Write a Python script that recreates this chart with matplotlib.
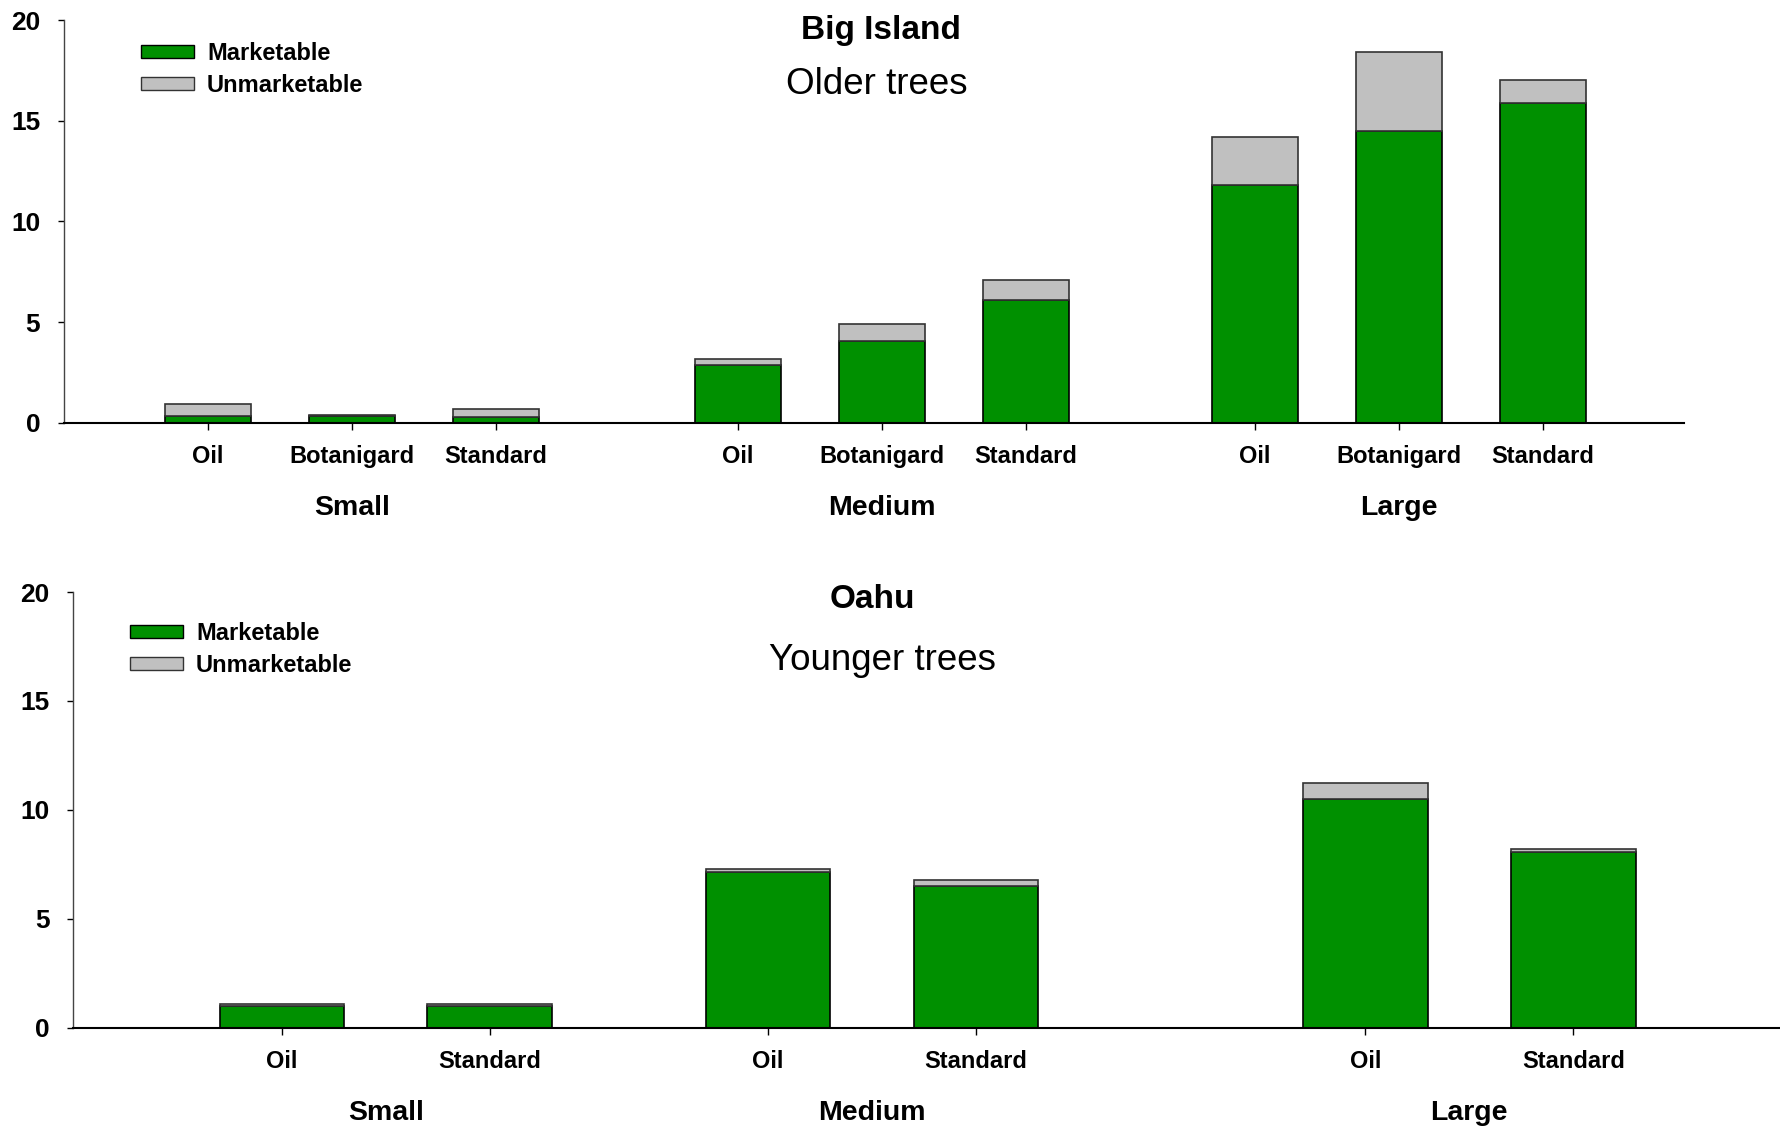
import numpy as np
import matplotlib
matplotlib.use("Agg")
import matplotlib.pyplot as plt
from matplotlib.patches import Patch

plt.rcParams['font.family'] = ['Liberation Sans', 'DejaVu Sans']

# values (yield per tree, stacked)
sizes = ['Small', 'Medium', 'Large']

top_treatments = ['Oil', 'Botanigard', 'Standard']
top_marketable = [[0.33, 0.37, 0.30], [2.89, 4.07, 6.10], [11.8, 14.5, 15.9]]
top_unmarketable = [[0.63, 0.03, 0.41], [0.27, 0.85, 1.02], [2.4, 3.9, 1.1]]

bottom_treatments = ['Oil', 'Standard']
bottom_marketable = [[1.0, 1.0], [7.14, 6.51], [10.52, 8.07]]
bottom_unmarketable = [[0.08, 0.10], [0.15, 0.29], [0.70, 0.15]]

green = '#009000'
grey = '#c0c0c0'


def draw_panel(ax, treatments, marketable, unmarketable, centers, offsets, xmax):
    # stacked bars for each size group, returns nothing
    xs = []
    labels = []
    for g in range(len(sizes)):
        for t in range(len(treatments)):
            x = centers[g] + offsets[t]
            ax.bar(x, marketable[g][t], width=0.6, color=green,
                   edgecolor='black', linewidth=1.2)
            ax.bar(x, unmarketable[g][t], bottom=marketable[g][t], width=0.6,
                   color=grey, edgecolor='#333333', linewidth=1.2)
            xs.append(x)
            labels.append(treatments[t])
        ax.annotate(sizes[g], xy=(centers[g], 0), xycoords=('data', 'axes fraction'),
                    xytext=(0, -61), textcoords='offset points',
                    ha='center', va='center', fontsize=20.5, fontweight='bold')
    ax.set_xticks(xs)
    ax.set_xticklabels(labels, fontsize=17, fontweight='bold')
    ax.set_xlim(0, xmax)
    ax.set_ylim(0, 20)
    ax.set_yticks([0, 5, 10, 15, 20])
    ax.set_yticklabels(['0', '5', '10', '15', '20'], fontsize=19, fontweight='bold')
    ax.tick_params(axis='x', length=5, width=1, pad=11, direction='out')
    ax.tick_params(axis='y', length=4, width=1, pad=13, direction='out')
    ax.spines['top'].set_visible(False)
    ax.spines['right'].set_visible(False)
    ax.spines['bottom'].set_linewidth(1.5)
    ax.spines['left'].set_linewidth(1.0)
    ax.spines['left'].set_color('#444444')


fig = plt.figure(figsize=(17.81, 11.30), dpi=100)
ax1 = fig.add_axes([0.0359, 0.6257, 0.9096, 0.3566])
ax2 = fig.add_axes([0.041, 0.0903, 0.959, 0.3858])

draw_panel(ax1, top_treatments, top_marketable, top_unmarketable,
           [2.0, 5.68, 9.27], [-1, 0, 1], 11.25)
draw_panel(ax2, bottom_treatments, bottom_marketable, bottom_unmarketable,
           [1.505, 3.845, 6.72], [-0.5, 0.5], 8.22)

handles = [Patch(facecolor=green, edgecolor='black', label='Marketable'),
           Patch(facecolor=grey, edgecolor='#333333', label='Unmarketable')]
for ax, lx, ly in [(ax1, 141, 1130 - 42), (ax2, 130, 1130 - 622)]:
    ax.legend(handles=handles, loc='upper left',
              bbox_to_anchor=(lx / 1781, ly / 1130), bbox_transform=fig.transFigure,
              frameon=False, prop={'weight': 'bold', 'size': 17},
              handlelength=2.25, handleheight=0.5, handletextpad=0.55,
              labelspacing=0.37, borderpad=0, borderaxespad=0)

fig.text(881 / 1781, 1 - 30 / 1130, 'Big Island', ha='center', va='center',
         fontsize=24, fontweight='bold')
fig.text(877 / 1781, 1 - 84 / 1130, 'Older trees', ha='center', va='center',
         fontsize=26.5)
fig.text(872 / 1781, 1 - 599 / 1130, 'Oahu', ha='center', va='center',
         fontsize=24, fontweight='bold')
fig.text(883 / 1781, 1 - 661 / 1130, 'Younger trees', ha='center', va='center',
         fontsize=26.5)

fig.savefig('out.png', dpi=100)
